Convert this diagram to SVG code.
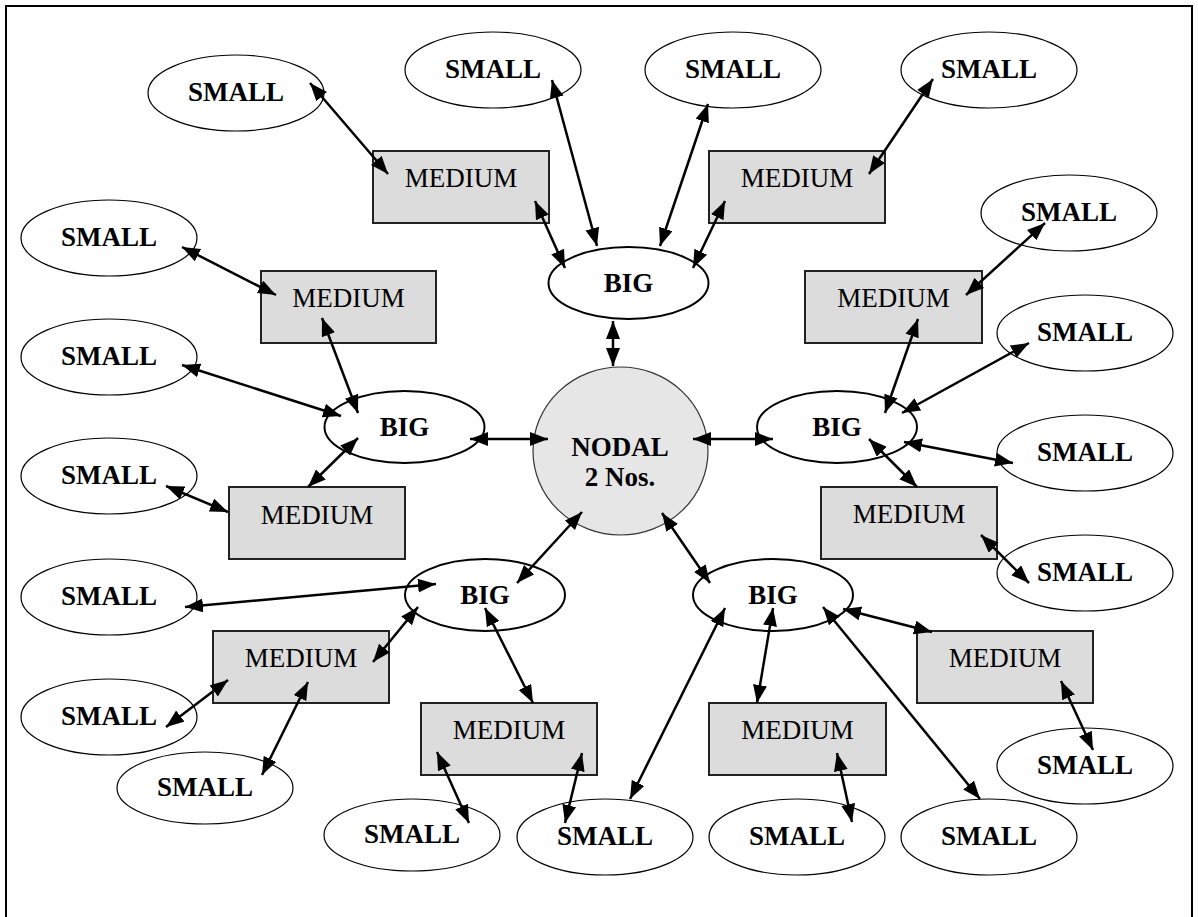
<svg xmlns="http://www.w3.org/2000/svg" width="1198" height="917" viewBox="0 0 1198 917">
<style>
.sm{fill:#fff;stroke:#000;stroke-width:1.2}
.bg{fill:#fff;stroke:#000;stroke-width:2}
.md{fill:#dcdcdc;stroke:#222;stroke-width:2}
.nd{fill:#e6e6e6;stroke:#333;stroke-width:1.2}
.tb{font-family:"Liberation Serif","Times New Roman",serif;font-weight:bold;font-size:27px;text-anchor:middle;fill:#000}
.tr{font-family:"Liberation Serif","Times New Roman",serif;font-size:27px;text-anchor:middle;fill:#000}
#connectors line{stroke:#000;stroke-width:2.5;marker-start:url(#ah);marker-end:url(#ah)}
</style>
<defs>
<marker id="ah" markerUnits="userSpaceOnUse" markerWidth="19" markerHeight="15" refX="18" refY="7" orient="auto-start-reverse">
<path d="M0,0 L18,7 L0,14 z" fill="#000"/>
</marker>
</defs>
<rect x="6" y="6" width="1186" height="930" fill="#fff" stroke="#000" stroke-width="2"/>

<g id="nodal"><ellipse class="nd" cx="620.5" cy="451" rx="87.5" ry="84"/><text class="tb" x="620" y="456">NODAL</text><text class="tb" x="620" y="486">2 Nos.</text></g>

<g id="big-top"><ellipse class="bg" cx="628.5" cy="283" rx="80" ry="36"/><text class="tb" x="628.5" y="292">BIG</text></g>
<g id="big-left"><ellipse class="bg" cx="404.5" cy="427" rx="80" ry="36"/><text class="tb" x="404.5" y="436">BIG</text></g>
<g id="big-right"><ellipse class="bg" cx="837" cy="427" rx="80" ry="36"/><text class="tb" x="837" y="436">BIG</text></g>
<g id="big-botleft"><ellipse class="bg" cx="485" cy="595" rx="80" ry="36"/><text class="tb" x="485" y="604">BIG</text></g>
<g id="big-botright"><ellipse class="bg" cx="773" cy="595" rx="80" ry="36"/><text class="tb" x="773" y="604">BIG</text></g>

<g id="med-1"><rect class="md" x="373" y="151" width="176" height="72"/><text class="tr" x="461" y="187">MEDIUM</text></g>
<g id="med-2"><rect class="md" x="709" y="151" width="176" height="72"/><text class="tr" x="797" y="187">MEDIUM</text></g>
<g id="med-3"><rect class="md" x="261" y="271" width="175" height="72"/><text class="tr" x="348.5" y="307">MEDIUM</text></g>
<g id="med-4"><rect class="md" x="229" y="487" width="176" height="72"/><text class="tr" x="317" y="524">MEDIUM</text></g>
<g id="med-5"><rect class="md" x="805" y="271" width="177" height="72"/><text class="tr" x="893.5" y="307">MEDIUM</text></g>
<g id="med-6"><rect class="md" x="821" y="487" width="176" height="72"/><text class="tr" x="909" y="523">MEDIUM</text></g>
<g id="med-7"><rect class="md" x="213" y="631" width="176" height="72"/><text class="tr" x="301" y="667">MEDIUM</text></g>
<g id="med-8"><rect class="md" x="421" y="703" width="176" height="72"/><text class="tr" x="509" y="739">MEDIUM</text></g>
<g id="med-9"><rect class="md" x="709" y="703" width="177" height="72"/><text class="tr" x="797.5" y="739">MEDIUM</text></g>
<g id="med-10"><rect class="md" x="917" y="631" width="176" height="72"/><text class="tr" x="1005" y="667">MEDIUM</text></g>

<g id="small-1"><ellipse class="sm" cx="236" cy="93" rx="88" ry="38"/><text class="tb" x="236" y="101">SMALL</text></g>
<g id="small-2"><ellipse class="sm" cx="493" cy="70" rx="88" ry="38"/><text class="tb" x="493" y="78">SMALL</text></g>
<g id="small-3"><ellipse class="sm" cx="733" cy="70" rx="88" ry="38"/><text class="tb" x="733" y="78">SMALL</text></g>
<g id="small-4"><ellipse class="sm" cx="989" cy="70" rx="88" ry="38"/><text class="tb" x="989" y="78">SMALL</text></g>
<g id="small-5"><ellipse class="sm" cx="1069" cy="213" rx="88" ry="38"/><text class="tb" x="1069" y="221">SMALL</text></g>
<g id="small-6"><ellipse class="sm" cx="1085" cy="333" rx="88" ry="38"/><text class="tb" x="1085" y="341">SMALL</text></g>
<g id="small-7"><ellipse class="sm" cx="1085" cy="453" rx="88" ry="38"/><text class="tb" x="1085" y="461">SMALL</text></g>
<g id="small-8"><ellipse class="sm" cx="1085" cy="573" rx="88" ry="38"/><text class="tb" x="1085" y="581">SMALL</text></g>
<g id="small-9"><ellipse class="sm" cx="1085" cy="766" rx="88" ry="38"/><text class="tb" x="1085" y="774">SMALL</text></g>
<g id="small-10"><ellipse class="sm" cx="989" cy="837" rx="88" ry="38"/><text class="tb" x="989" y="845">SMALL</text></g>
<g id="small-11"><ellipse class="sm" cx="797" cy="837" rx="88" ry="38"/><text class="tb" x="797" y="845">SMALL</text></g>
<g id="small-12"><ellipse class="sm" cx="605" cy="837" rx="88" ry="38"/><text class="tb" x="605" y="845">SMALL</text></g>
<g id="small-13"><ellipse class="sm" cx="412" cy="835" rx="88" ry="36"/><text class="tb" x="412" y="843">SMALL</text></g>
<g id="small-14"><ellipse class="sm" cx="205" cy="788" rx="88" ry="36"/><text class="tb" x="205" y="796">SMALL</text></g>
<g id="small-15"><ellipse class="sm" cx="109" cy="717" rx="88" ry="38"/><text class="tb" x="109" y="725">SMALL</text></g>
<g id="small-16"><ellipse class="sm" cx="109" cy="597" rx="88" ry="38"/><text class="tb" x="109" y="605">SMALL</text></g>
<g id="small-17"><ellipse class="sm" cx="109" cy="476" rx="88" ry="38"/><text class="tb" x="109" y="484">SMALL</text></g>
<g id="small-18"><ellipse class="sm" cx="109" cy="357" rx="88" ry="38"/><text class="tb" x="109" y="365">SMALL</text></g>
<g id="small-19"><ellipse class="sm" cx="109" cy="238" rx="88" ry="38"/><text class="tb" x="109" y="246">SMALL</text></g>

<g id="connectors">
<line x1="613" y1="321" x2="613" y2="366"/>
<line x1="535" y1="201" x2="565" y2="268"/>
<line x1="552" y1="80" x2="597" y2="246"/>
<line x1="708" y1="104" x2="660" y2="246"/>
<line x1="725" y1="201" x2="693" y2="268"/>
<line x1="310" y1="83" x2="388" y2="174"/>
<line x1="933" y1="79" x2="869" y2="174"/>
<line x1="182" y1="247" x2="276" y2="295"/>
<line x1="322" y1="318" x2="358" y2="413"/>
<line x1="182" y1="365" x2="341" y2="416"/>
<line x1="358" y1="438" x2="308" y2="487"/>
<line x1="166" y1="486" x2="228" y2="512"/>
<line x1="470" y1="439" x2="548" y2="439"/>
<line x1="693" y1="439" x2="773" y2="439"/>
<line x1="582" y1="512" x2="517" y2="583"/>
<line x1="662" y1="513" x2="710" y2="583"/>
<line x1="918" y1="319" x2="885" y2="413"/>
<line x1="1029" y1="343" x2="902" y2="413"/>
<line x1="904" y1="442" x2="1013" y2="463"/>
<line x1="869" y1="439" x2="917" y2="487"/>
<line x1="981" y1="535" x2="1029" y2="583"/>
<line x1="1045" y1="223" x2="966" y2="295"/>
<line x1="185" y1="607" x2="436" y2="584"/>
<line x1="373" y1="662" x2="418" y2="607"/>
<line x1="166" y1="727" x2="228" y2="680"/>
<line x1="308" y1="682" x2="262" y2="775"/>
<line x1="485" y1="608" x2="533" y2="703"/>
<line x1="437" y1="752" x2="469" y2="823"/>
<line x1="582" y1="753" x2="565" y2="823"/>
<line x1="725" y1="608" x2="630" y2="799"/>
<line x1="773" y1="608" x2="757" y2="703"/>
<line x1="837" y1="753" x2="852" y2="822"/>
<line x1="823" y1="607" x2="980" y2="799"/>
<line x1="843" y1="609" x2="932" y2="632"/>
<line x1="1061" y1="681" x2="1093" y2="750"/>
</g>
</svg>
